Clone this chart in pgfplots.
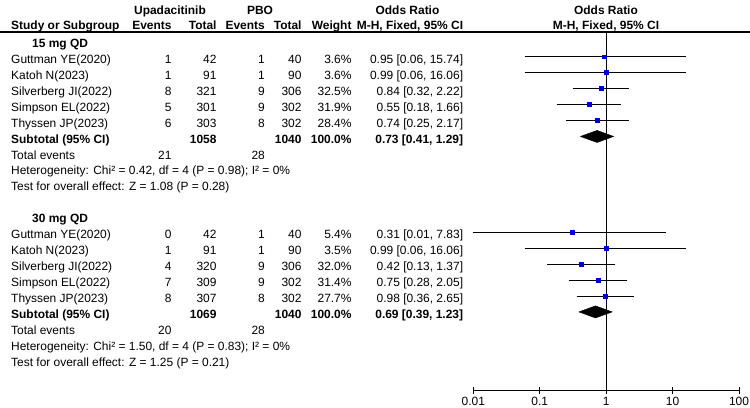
\documentclass[border=0pt]{standalone}
\usepackage{pgfplots}
\pgfplotsset{compat=1.18}
\usepackage{pgfplotstable}
\usepackage{fontspec}
\setmainfont{Liberation Sans}

\definecolor{boxblue}{RGB}{0,0,200}

% study estimates: row index (negative = downwards), odds ratio, 95% CI, weight (%)
\pgfplotstableread{
y    or    lo    hi     w
-1   0.95  0.06  15.74  3.6
-2   0.99  0.06  16.06  3.6
-3   0.84  0.32  2.22   32.5
-4   0.55  0.18  1.66   31.9
-5   0.74  0.25  2.17   28.4
-12  0.31  0.01  7.83   5.4
-13  0.99  0.06  16.06  3.5
-14  0.42  0.13  1.37   32.0
-15  0.75  0.28  2.05   31.4
-16  0.98  0.36  2.65   27.7
}\studies

% baseline of table row #1 (in bp, measured downwards from the top)
\newcommand{\rb}[1]{47.35+15.95*#1}
\newcommand{\studyrow}[8]{%
  \node[anchor=base west] at (11,{\rb{#1}}) {#2};
  \node[anchor=base east] at (171.7,{\rb{#1}}) {#3};
  \node[anchor=base east] at (216.7,{\rb{#1}}) {#4};
  \node[anchor=base east] at (265,{\rb{#1}}) {#5};
  \node[anchor=base east] at (301.7,{\rb{#1}}) {#6};
  \node[anchor=base east] at (351.7,{\rb{#1}}) {#7};
  \node[anchor=base east] at (463.3,{\rb{#1}}) {#8};
}
\newcommand{\subtotalrow}[5]{%
  \node[anchor=base west] at (11,{\rb{#1}}) {\bfseries Subtotal (95\% CI)};
  \node[anchor=base east] at (216.7,{\rb{#1}}) {\bfseries #2};
  \node[anchor=base east] at (301.7,{\rb{#1}}) {\bfseries #3};
  \node[anchor=base east] at (351.7,{\rb{#1}}) {\bfseries #4};
  \node[anchor=base east] at (463.3,{\rb{#1}}) {\bfseries #5};
}
\newcommand{\summaryrows}[5]{%
  \node[anchor=base west] at (11,{\rb{#1}}) {Total events};
  \node[anchor=base east] at (171.7,{\rb{#1}}) {#2};
  \node[anchor=base east] at (265,{\rb{#1}}) {#3};
  \node[anchor=base west] at (11,{\rb{(#1+1)}}) {#4};
  \node[anchor=base west] at (11,{\rb{(#1+2)}}) {#5};
}

\begin{document}
\begin{tikzpicture}
\useasboundingbox (0,0) rectangle (750bp,-408bp);

\begin{axis}[
  at={(473.3bp,-390.7bp)}, anchor=south west,
  scale only axis, width=265.7bp, height=358.7bp,
  xmode=log, xmin=0.01, xmax=100,
  ymin=-21.94, ymax=0.5486,
  axis x line*=bottom, axis y line=none,
  axis line style={black, line width=0.9bp, -},
  xtick={0.01,0.1,1,10,100},
  xticklabels={0.01,0.1,1,10,100},
  xminorticks=false,
  tick align=center, major tick length=7bp,
  tick style={black, line width=0.9bp},
  xticklabel style={font=\fontsize{12}{14}\selectfont, inner sep=0pt, yshift=-3bp},
  clip=false,
]
  % line of no effect
  \addplot[black, line width=0.9bp] coordinates {(1,0.5486) (1,-21.94)};

  % confidence intervals
  \addplot[black, line width=0.9bp] coordinates {(0.06,-1) (15.74,-1)};
  \addplot[black, line width=0.9bp] coordinates {(0.06,-2) (16.06,-2)};
  \addplot[black, line width=0.9bp] coordinates {(0.32,-3) (2.22,-3)};
  \addplot[black, line width=0.9bp] coordinates {(0.18,-4) (1.66,-4)};
  \addplot[black, line width=0.9bp] coordinates {(0.25,-5) (2.17,-5)};
  \addplot[black, line width=0.9bp] coordinates {(0.01,-12) (7.83,-12)};
  \addplot[black, line width=0.9bp] coordinates {(0.06,-13) (16.06,-13)};
  \addplot[black, line width=0.9bp] coordinates {(0.13,-14) (1.37,-14)};
  \addplot[black, line width=0.9bp] coordinates {(0.28,-15) (2.05,-15)};
  \addplot[black, line width=0.9bp] coordinates {(0.36,-16) (2.65,-16)};

  % point estimates, box area proportional to weight
  \addplot[only marks, mark=square*, scatter,
    visualization depends on={0.59*sqrt(\thisrow{w})-0.2 \as \hs},
    scatter/@pre marker code/.append style={/tikz/mark size=\hs},
    scatter/use mapped color={draw=boxblue, fill=boxblue},
    mark options={line width=0.4bp}]
    table[x=or, y=y] {\studies};

  % pooled estimates
  \addplot[fill=black, draw=black, line width=0.5bp]
    coordinates {(0.41,-6) (0.73,-5.624) (1.29,-6) (0.73,-6.376) (0.41,-6)};
  \addplot[fill=black, draw=black, line width=0.5bp]
    coordinates {(0.39,-17) (0.69,-16.624) (1.23,-17) (0.69,-17.376) (0.39,-17)};
\end{axis}

\begin{scope}[x=1bp, y=-1bp, every node/.style={inner sep=0pt, font=\fontsize{12}{14}\selectfont}]
  % header
  \node[anchor=base] at (170,14.5) {\bfseries Upadacitinib};
  \node[anchor=base] at (260,14.5) {\bfseries PBO};
  \node[anchor=base] at (407.5,14.5) {\bfseries Odds Ratio};
  \node[anchor=base] at (606,14.5) {\bfseries Odds Ratio};
  \node[anchor=base west] at (11,29.5) {\bfseries Study or Subgroup};
  \node[anchor=base east] at (171.7,29.5) {\bfseries Events};
  \node[anchor=base east] at (216.7,29.5) {\bfseries Total};
  \node[anchor=base east] at (265,29.5) {\bfseries Events};
  \node[anchor=base east] at (301.7,29.5) {\bfseries Total};
  \node[anchor=base east] at (351.7,29.5) {\bfseries Weight};
  \node[anchor=base east] at (463.3,29.5) {\bfseries M-H, Fixed, 95\% CI};
  \node[anchor=base] at (606,29.5) {\bfseries M-H, Fixed, 95\% CI};
  \draw[black, line width=1.2bp] (0,32) -- (750,32);

  % 15 mg QD
  \node[anchor=base west] at (32,{\rb{0}}) {\bfseries 15 mg QD};
  \studyrow{1}{Guttman YE(2020)}{1}{42}{1}{40}{3.6\%}{0.95 [0.06, 15.74]}
  \studyrow{2}{Katoh N(2023)}{1}{91}{1}{90}{3.6\%}{0.99 [0.06, 16.06]}
  \studyrow{3}{Silverberg JI(2022)}{8}{321}{9}{306}{32.5\%}{0.84 [0.32, 2.22]}
  \studyrow{4}{Simpson EL(2022)}{5}{301}{9}{302}{31.9\%}{0.55 [0.18, 1.66]}
  \studyrow{5}{Thyssen JP(2023)}{6}{303}{8}{302}{28.4\%}{0.74 [0.25, 2.17]}
  \subtotalrow{6}{1058}{1040}{100.0\%}{0.73 [0.41, 1.29]}
  \summaryrows{7}{21}{28}{Heterogeneity: Chi² = 0.42, df = 4 (P = 0.98); I² = 0\%}{Test for overall effect: Z = 1.08 (P = 0.28)}

  % 30 mg QD
  \node[anchor=base west] at (32,{\rb{11}}) {\bfseries 30 mg QD};
  \studyrow{12}{Guttman YE(2020)}{0}{42}{1}{40}{5.4\%}{0.31 [0.01, 7.83]}
  \studyrow{13}{Katoh N(2023)}{1}{91}{1}{90}{3.5\%}{0.99 [0.06, 16.06]}
  \studyrow{14}{Silverberg JI(2022)}{4}{320}{9}{306}{32.0\%}{0.42 [0.13, 1.37]}
  \studyrow{15}{Simpson EL(2022)}{7}{309}{9}{302}{31.4\%}{0.75 [0.28, 2.05]}
  \studyrow{16}{Thyssen JP(2023)}{8}{307}{8}{302}{27.7\%}{0.98 [0.36, 2.65]}
  \subtotalrow{17}{1069}{1040}{100.0\%}{0.69 [0.39, 1.23]}
  \summaryrows{18}{20}{28}{Heterogeneity: Chi² = 1.50, df = 4 (P = 0.83); I² = 0\%}{Test for overall effect: Z = 1.25 (P = 0.21)}
\end{scope}
\end{tikzpicture}
\end{document}
